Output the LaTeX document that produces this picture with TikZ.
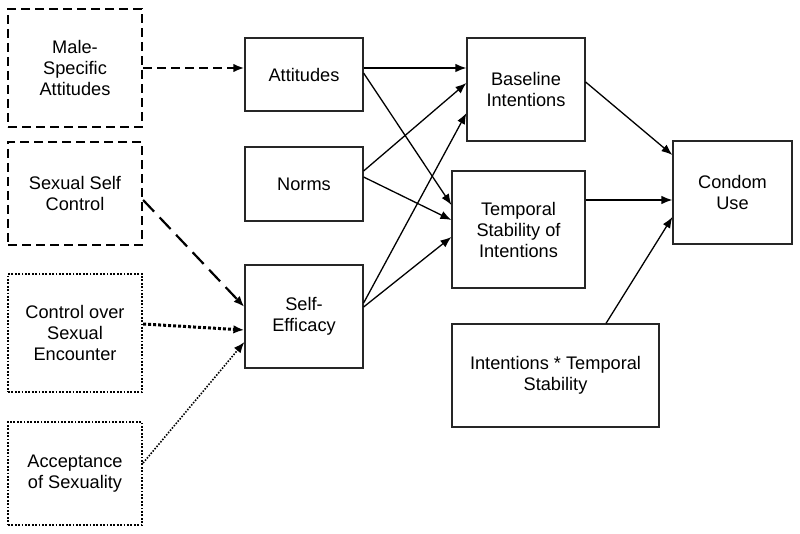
\documentclass[tikz,border=0pt]{standalone}
\usepackage{fontspec}
\setmainfont{Liberation Sans}
\usetikzlibrary{arrows.meta}

\begin{document}
\begin{tikzpicture}[
        x=1pt, y=-1pt,
        font=\fontsize{18.2}{21}\selectfont,
        box/.style={
            rectangle, draw=black!85, line width=1.2pt,
            inner sep=2pt, text centered, align=center
        },
        dashbox/.style={box, draw=black, line width=2.2pt, dash pattern=on 9pt off 5pt},
        dotbox/.style={box, draw=black, line width=2.2pt, dash pattern=on 1.8pt off 1.6pt},
        arrow/.style={-{Latex[length=11pt,width=8.5pt]}, line width=1.3pt}
    ]

        \useasboundingbox (0,0) rectangle (800,534);

        % Columna 1: predictores externos
        \node[dashbox, minimum width=134pt, minimum height=118pt] (male) at (75,68) {Male-\\Specific\\Attitudes};
        \node[dashbox, minimum width=134pt, minimum height=103pt] (sexctl) at (75,193.5) {Sexual Self\\Control};
        \node[dotbox, minimum width=134pt, minimum height=118pt] (encounter) at (75,333) {Control over\\Sexual\\Encounter};
        \node[dotbox, minimum width=134pt, minimum height=103pt] (accept) at (75,473.5) {Acceptance\\of Sexuality};

        % Columna 2: constructos
        \node[box, minimum width=118pt, minimum height=73pt] (att) at (304,74.5) {Attitudes};
        \node[box, minimum width=118pt, minimum height=74pt] (norms) at (304,184) {Norms};
        \node[box, minimum width=118pt, minimum height=103pt] (selfeff) at (304,316.5) {Self-\\Efficacy};

        % Columna 3: intenciones
        \node[box, minimum width=118pt, minimum height=103pt] (base) at (526,89.5) {Baseline\\Intentions};
        \node[box, minimum width=133pt, minimum height=117pt] (temp) at (518.5,229.5) {Temporal\\Stability of\\Intentions};
        \node[box, minimum width=207pt, minimum height=103pt] (inter) at (555.5,375.5) {Intentions * Temporal\\Stability};

        % Columna 4: resultado
        \node[box, minimum width=119pt, minimum height=103pt] (condom) at (732.5,192.5) {Condom\\Use};

        % Flechas desde predictores externos
        \draw[arrow, dash pattern=on 9pt off 5pt, line width=2.2pt] (male.east) -- (male.east -| att.west);
        \draw[arrow, dash pattern=on 16pt off 8pt, line width=2.2pt] ([yshift=-6.5pt]sexctl.east) -- ([yshift=9.5pt]selfeff.west);
        \draw[arrow, dash pattern=on 3pt off 2pt, line width=3pt] ([yshift=9pt]encounter.east) -- ([yshift=-13.5pt]selfeff.west);
        \draw[arrow, dash pattern=on 1.5pt off 1.5pt, line width=1.6pt] ([yshift=10.5pt]accept.east) -- ([yshift=-25.5pt]selfeff.west);

        % Constructos a intenciones
        \draw[arrow] ([yshift=6.5pt]att.east) -- ([yshift=21.5pt]base.west);
        \draw[arrow] ([yshift=1.5pt]att.east) -- ([yshift=24.5pt]temp.west);
        \draw[arrow] ([yshift=13pt]norms.east) -- ([yshift=6.5pt]base.west);
        \draw[arrow] ([yshift=7pt]norms.east) -- ([yshift=9.5pt]temp.west);
        \draw[arrow] ([yshift=13.5pt]selfeff.east) -- ([yshift=-23.5pt]base.west);
        \draw[arrow] ([yshift=9.5pt]selfeff.east) -- ([yshift=-7.5pt]temp.west);

        % Intenciones a uso de condon
        \draw[arrow] ([yshift=7.5pt]base.east) -- ([yshift=37.5pt]condom.west);
        \draw[arrow] ([yshift=29.5pt]temp.east) -- ([yshift=-7.5pt]condom.west);
        \draw[arrow] ([xshift=50.5pt]inter.north) -- ([yshift=-24.5pt]condom.west);

    \end{tikzpicture}
\end{document}
